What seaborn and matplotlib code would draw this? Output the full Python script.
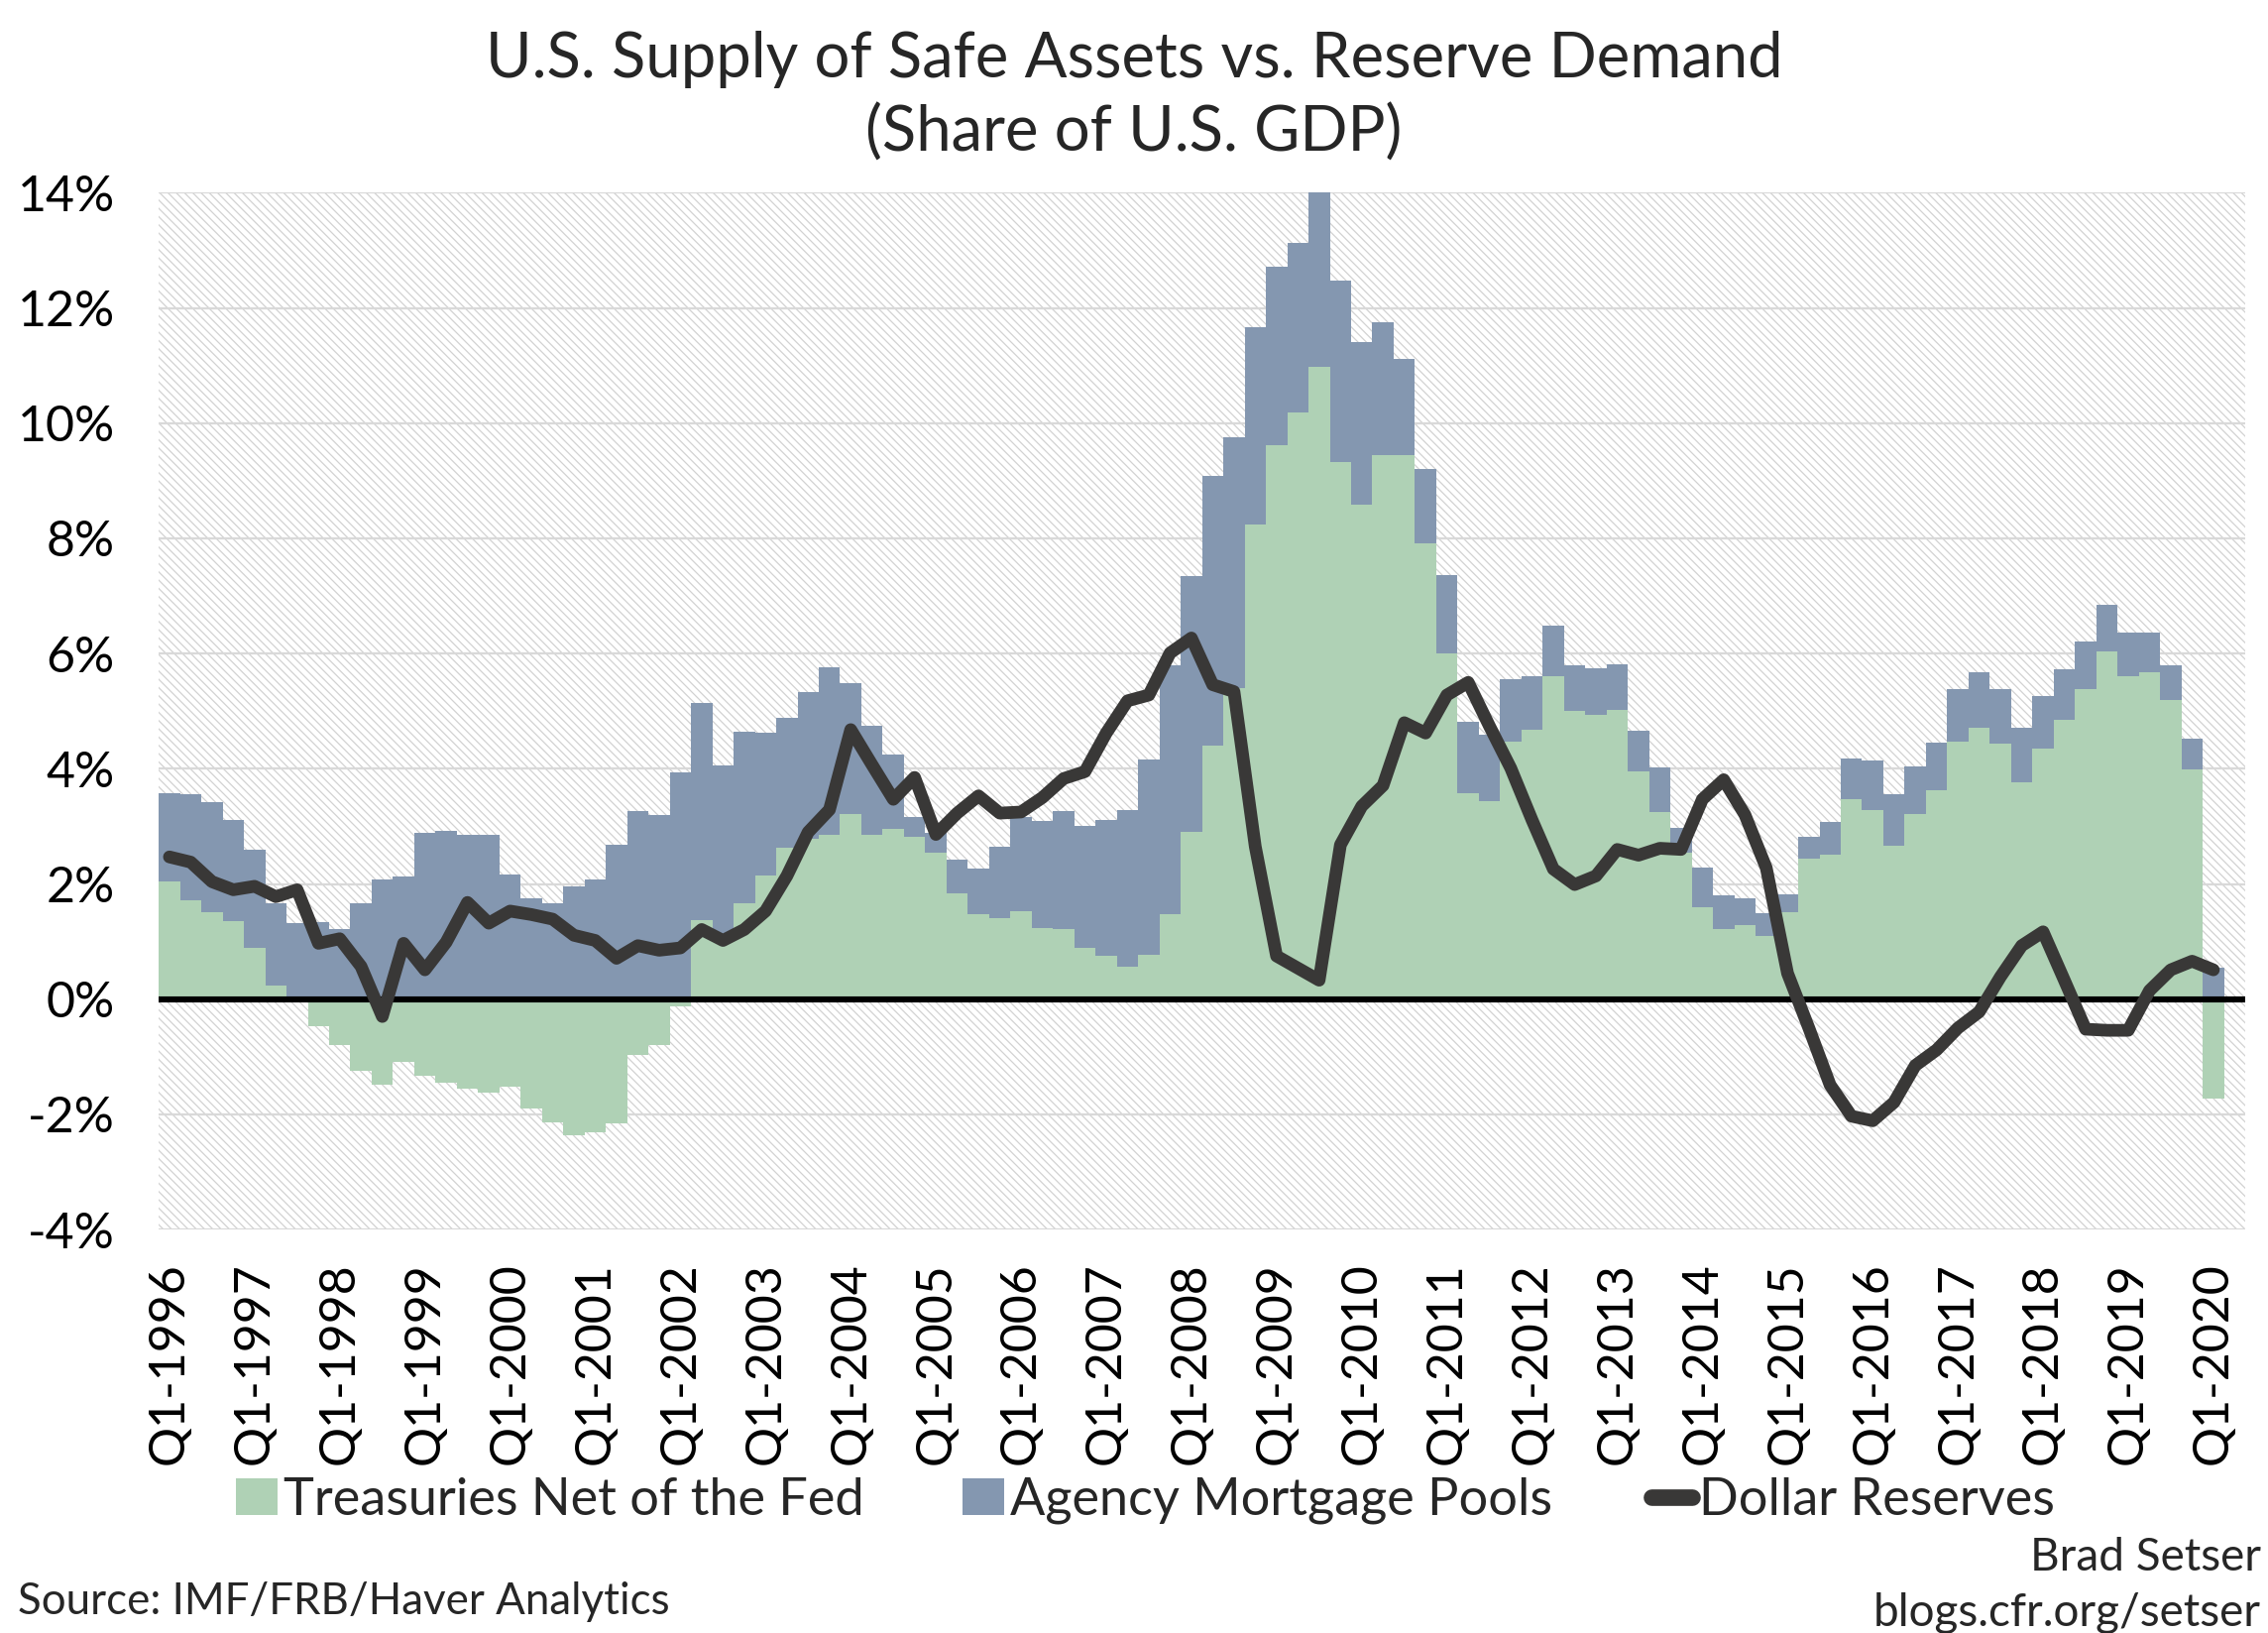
import numpy as np
import pandas as pd
import matplotlib
matplotlib.use('Agg')
import matplotlib.pyplot as plt
from matplotlib.patches import Rectangle
from matplotlib.lines import Line2D
from matplotlib.patches import Patch
import seaborn as sns

# quarterly data, Q1-1996 .. Q1-2020, share of U.S. GDP (%)
years = list(range(1996, 2021))
quarters = [f'Q{q}-{y}' for y in years for q in (1, 2, 3, 4)][:97]

treasuries = [2.04, 1.72, 1.51, 1.35, 0.89, 0.23, -0.03, -0.46, -0.79, -1.24,
              -1.49, -1.09, -1.33, -1.45, -1.56, -1.63, -1.52, -1.89, -2.13, -2.36,
              -2.31, -2.16, -0.97, -0.80, -0.13, 1.38, 1.11, 1.66, 2.14, 2.63,
              2.78, 2.85, 3.21, 2.85, 2.96, 2.82, 2.55, 1.84, 1.47, 1.40,
              1.53, 1.23, 1.21, 0.89, 0.75, 0.56, 0.77, 1.47, 2.90, 4.40,
              5.40, 8.24, 9.61, 10.18, 10.97, 9.33, 8.59, 9.44, 9.45, 7.92,
              6.01, 3.58, 3.43, 4.47, 4.68, 5.61, 5.00, 4.94, 5.02, 3.96,
              3.25, 2.54, 1.60, 1.21, 1.28, 1.09, 1.51, 2.44, 2.51, 3.48,
              3.29, 2.66, 3.21, 3.63, 4.47, 4.71, 4.43, 3.76, 4.35, 4.85,
              5.39, 6.04, 5.61, 5.68, 5.20, 3.99, -1.73]

agency = [1.54, 1.84, 1.91, 1.77, 1.71, 1.43, 1.32, 1.34, 1.21, 1.66,
          2.08, 2.13, 2.89, 2.92, 2.85, 2.85, 2.16, 1.75, 1.66, 1.96,
          2.08, 2.68, 3.26, 3.20, 3.94, 3.77, 2.95, 2.98, 2.48, 2.25,
          2.55, 2.91, 2.28, 1.90, 1.29, 0.35, 0.33, 0.59, 0.80, 1.25,
          1.64, 1.86, 2.05, 2.12, 2.37, 2.73, 3.39, 4.33, 4.45, 4.69,
          4.36, 3.43, 3.10, 2.94, 3.23, 3.15, 2.81, 2.31, 1.66, 1.29,
          1.36, 1.24, 1.16, 1.08, 0.92, 0.88, 0.80, 0.81, 0.79, 0.70,
          0.77, 0.43, 0.68, 0.59, 0.47, 0.41, 0.31, 0.38, 0.57, 0.70,
          0.85, 0.90, 0.83, 0.83, 0.92, 0.96, 0.96, 0.96, 0.92, 0.88,
          0.82, 0.81, 0.75, 0.68, 0.59, 0.53, 0.54]

reserves = [2.47, 2.38, 2.04, 1.90, 1.96, 1.78, 1.90, 0.97, 1.05, 0.57,
            -0.30, 0.97, 0.51, 0.99, 1.68, 1.32, 1.53, 1.47, 1.39, 1.11,
            1.02, 0.71, 0.93, 0.85, 0.89, 1.21, 1.02, 1.21, 1.53, 2.14,
            2.90, 3.29, 4.68, 4.07, 3.47, 3.85, 2.86, 3.23, 3.53, 3.23,
            3.25, 3.50, 3.83, 3.95, 4.62, 5.18, 5.28, 6.01, 6.27, 5.46,
            5.34, 2.65, 0.75, 0.54, 0.33, 2.68, 3.35, 3.71, 4.80, 4.62,
            5.28, 5.50, 4.74, 4.01, 3.11, 2.26, 1.99, 2.14, 2.60, 2.50,
            2.62, 2.60, 3.47, 3.81, 3.20, 2.28, 0.45, -0.50, -1.49, -2.03,
            -2.11, -1.79, -1.15, -0.88, -0.50, -0.22, 0.39, 0.93, 1.17, 0.33,
            -0.52, -0.54, -0.54, 0.15, 0.51, 0.66, 0.51]

yticks = [-4, -2, 0, 2, 4, 6, 8, 10, 12, 14]

GREEN = '#afd1b5'
BLUE = '#8497b0'
DARK = '#393837'

df = pd.DataFrame({'quarter': quarters, 'treasuries': treasuries,
                   'agency': agency, 'reserves': reserves})
# excel-style stacking: agency sits on top of positive treasuries, from zero otherwise
df['blue_top'] = df['treasuries'].clip(lower=0) + df['agency']
df['pos'] = np.arange(len(df))

sns.set_style('white')
plt.rcParams['font.family'] = ['Lato', 'DejaVu Sans']
plt.rcParams['hatch.linewidth'] = 0.45

fig = plt.figure(figsize=(11.44, 8.235), dpi=200)
ax = fig.add_axes([0.070, 0.247, 0.920, 0.635])

# hatched plot background
ax.add_patch(Rectangle((0, 0), 1, 1, transform=ax.transAxes, facecolor='white',
                       edgecolor='#d2d2d2', hatch='\\' * 8, lw=0, zorder=0))

sns.barplot(data=df, x='quarter', y='blue_top', color=BLUE, width=1.0,
            linewidth=0, saturation=1, ax=ax, zorder=2)
sns.barplot(data=df, x='quarter', y='treasuries', color=GREEN, width=1.0,
            linewidth=0, saturation=1, ax=ax, zorder=3)

for t in yticks:
    ax.axhline(t, color='#d9d9d9', lw=0.8, zorder=1)
ax.axhline(0, color='black', lw=2.2, zorder=4)

sns.lineplot(data=df, x='pos', y='reserves', color=DARK, lw=4.6, ax=ax,
             zorder=5, solid_capstyle='round')

ax.set_xlim(-0.5, 97.5)
ax.set_ylim(-4, 14)
ax.set_yticks(yticks)
ax.set_yticklabels([f'{t}%' for t in yticks], fontsize=18)
ax.set_xticks(range(0, len(quarters), 4))
ax.set_xticklabels(quarters[::4], rotation=90, fontsize=18)
ax.tick_params(axis='both', length=0, colors='black')
ax.tick_params(axis='y', pad=16)
ax.tick_params(axis='x', pad=12)
ax.set_xlabel('')
ax.set_ylabel('')
for s in ax.spines.values():
    s.set_visible(False)

fig.text(0.5, 0.941, 'U.S. Supply of Safe Assets vs. Reserve Demand\n(Share of U.S. GDP)',
         ha='center', va='center', fontsize=22.8, linespacing=1.32)

handles = [Patch(facecolor=GREEN, edgecolor='none'),
           Patch(facecolor=BLUE, edgecolor='none'),
           Line2D([0], [0], color=DARK, lw=6, solid_capstyle='round')]
fig.legend(handles, ['Treasuries Net of the Fed', 'Agency Mortgage Pools', 'Dollar Reserves'],
           loc='center', bbox_to_anchor=(0.505, 0.081), ncol=3, frameon=False,
           fontsize=18.8, handlelength=0.8, handleheight=0.7, handletextpad=0.12,
           columnspacing=1.9)

fig.text(0.008, 0.019, 'Source: IMF/FRB/Haver Analytics', ha='left', va='center', fontsize=15.8)
fig.text(0.997, 0.046, 'Brad Setser', ha='right', va='center', fontsize=16.5)
fig.text(0.997, 0.012, 'blogs.cfr.org/setser', ha='right', va='center', fontsize=16.5)

fig.savefig('out.png', dpi=200)
